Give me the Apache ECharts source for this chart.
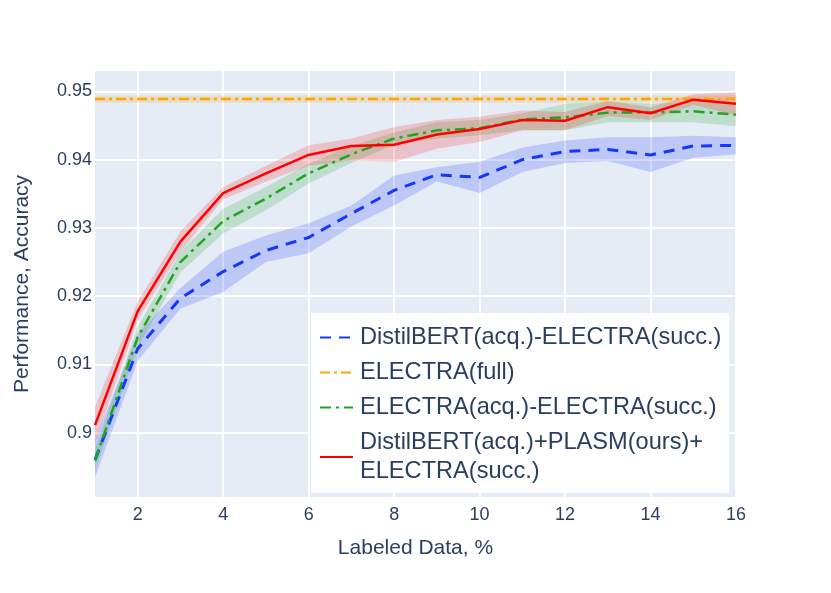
<!DOCTYPE html>
<html>
<head>
<meta charset="utf-8">
<script src="https://cdn.jsdelivr.net/npm/echarts@6/dist/echarts.min.js"></script>
<style>html,body{margin:0;padding:0;background:#fff}#c{width:831px;height:593px}</style>
</head>
<body>
<div id="c"></div>
<script>
const labeled = [1,2,3,4,5,6,7,8,9,10,11,12,13,14,15,16];
const xTicks = [2,4,6,8,10,12,14,16];
const yTicks = [0.90,0.91,0.92,0.93,0.94,0.95];

const distilMean  = [0.8960,0.9123,0.9197,0.9236,0.9267,0.9286,0.9321,0.9355,0.9378,0.9374,0.9400,0.9412,0.9415,0.9407,0.9420,0.9421];
const distilLow   = [0.8934,0.9105,0.9182,0.9206,0.9250,0.9263,0.9302,0.9333,0.9368,0.9351,0.9382,0.9395,0.9398,0.9382,0.9403,0.9408];
const distilHigh  = [0.8989,0.9145,0.9212,0.9265,0.9289,0.9307,0.9333,0.9377,0.9389,0.9397,0.9418,0.9428,0.9433,0.9433,0.9435,0.9433];

const fullMean = [0.9489,0.9489,0.9489,0.9489,0.9489,0.9489,0.9489,0.9489,0.9489,0.9489,0.9489,0.9489,0.9489,0.9489,0.9489,0.9489];
const fullLow  = [0.9484,0.9484,0.9484,0.9484,0.9484,0.9484,0.9484,0.9484,0.9484,0.9484,0.9484,0.9484,0.9484,0.9484,0.9484,0.9484];
const fullHigh = [0.9494,0.9494,0.9494,0.9494,0.9494,0.9494,0.9494,0.9494,0.9494,0.9494,0.9494,0.9494,0.9494,0.9494,0.9494,0.9494];

const electraMean = [0.8959,0.9140,0.9250,0.9310,0.9343,0.9380,0.9408,0.9431,0.9443,0.9446,0.9459,0.9462,0.9469,0.9469,0.9471,0.9466];
const electraLow  = [0.8945,0.9125,0.9235,0.9292,0.9326,0.9365,0.9395,0.9422,0.9431,0.9436,0.9443,0.9443,0.9455,0.9455,0.9455,0.9449];
const electraHigh = [0.8975,0.9155,0.9265,0.9328,0.9360,0.9394,0.9420,0.9440,0.9455,0.9458,0.9468,0.9482,0.9485,0.9482,0.9485,0.9482];

const plasmMean = [0.9011,0.9178,0.9280,0.9351,0.9380,0.9407,0.9420,0.9422,0.9437,0.9445,0.9458,0.9457,0.9477,0.9468,0.9488,0.9482];
const plasmLow  = [0.8985,0.9165,0.9265,0.9342,0.9368,0.9391,0.9399,0.9397,0.9416,0.9426,0.9443,0.9443,0.9464,0.9458,0.9480,0.9465];
const plasmHigh = [0.9038,0.9192,0.9295,0.9360,0.9391,0.9421,0.9431,0.9448,0.9458,0.9463,0.9472,0.9470,0.9486,0.9477,0.9496,0.9499];

const names = [
  'DistilBERT(acq.)-ELECTRA(succ.)',
  'ELECTRA(full)',
  'ELECTRA(acq.)-ELECTRA(succ.)',
  'DistilBERT(acq.)+PLASM(ours)+\nELECTRA(succ.)'
];

const textColor = '#2a3f5f';
const font = 'Liberation Sans, Arial, sans-serif';

function band(low, high, color) {
  const data = labeled.map((x,i)=>[x, low[i], high[i]]);
  return {
    type:'custom', silent:true, z:1, clip:true,
    data: data,
    encode:{x:0, y:[1,2]},
    renderItem:function(params, api){
      if (params.dataIndex !== 0) return null;
      const pts = [];
      for (let i=0;i<data.length;i++) pts.push(api.coord([data[i][0], data[i][2]]));
      for (let i=data.length-1;i>=0;i--) pts.push(api.coord([data[i][0], data[i][1]]));
      return {type:'polygon', shape:{points:pts}, style:{fill:color}};
    }
  };
}
function mainLine(name, mean, color, dash, width) {
  return { type:'line', name:name, data: labeled.map((x,i)=>[x, mean[i]]), symbol:'none',
    lineStyle:{color:color, width:width, type:dash}, itemStyle:{color:color}, z:3 };
}

const series = [
  band(distilLow, distilHigh, 'rgba(30,60,255,0.2)'),
  band(fullLow, fullHigh, 'rgba(255,165,0,0.2)'),
  band(electraLow, electraHigh, 'rgba(40,165,40,0.2)'),
  band(plasmLow, plasmHigh, 'rgba(255,0,0,0.18)'),
  mainLine(names[0], distilMean, '#1538ff', [11,8], 3),
  mainLine(names[1], fullMean, '#ffa500', [10,4,3,4], 2.5),
  mainLine(names[2], electraMean, '#22a322', [11,5,3,5], 2.5),
  mainLine(names[3], plasmMean, '#ff0000', 'solid', 2.5)
];

const chart = echarts.init(document.getElementById('c'), null, {renderer:'canvas'});
chart.setOption({
  animation:false,
  backgroundColor:'#ffffff',
  grid:{left:95, right:95, top:71, bottom:96, show:true, backgroundColor:'#E5ECF6', borderWidth:0},
  xAxis:{
    type:'value', min:1, max:16,
    name:'Labeled Data, %', nameLocation:'middle', nameGap:41,
    nameTextStyle:{color:textColor, fontSize:21, fontFamily:font},
    axisLine:{show:false}, axisTick:{show:false, customValues:xTicks},
    axisLabel:{color:textColor, fontSize:18, fontFamily:font, margin:9, customValues:xTicks},
    splitLine:{show:true, lineStyle:{color:'#ffffff', width:2}}
  },
  yAxis:{
    type:'value', min:0.89056, max:0.953,
    name:'Performance, Accuracy', nameLocation:'middle', nameGap:62,
    nameTextStyle:{color:textColor, fontSize:21, fontFamily:font},
    axisLine:{show:false}, axisTick:{show:false, customValues:yTicks},
    axisLabel:{color:textColor, fontSize:18, fontFamily:font, margin:3, customValues:yTicks,
      formatter:v=>String(parseFloat(v.toFixed(2)))},
    splitLine:{show:true, lineStyle:{color:'#ffffff', width:2}}
  },
  legend:{
    data:names, orient:'vertical', left:311, top:313,
    backgroundColor:'rgba(255,255,255,0.95)', padding:[10,8,7,8],
    itemWidth:33, itemHeight:14, itemGap:6,
    itemStyle:{opacity:0},
    textStyle:{color:textColor, fontSize:23.6, fontFamily:font, lineHeight:29, padding:[0,0,0,2]},
    selectedMode:false
  },
  series: series
});
</script>
</body>
</html>
